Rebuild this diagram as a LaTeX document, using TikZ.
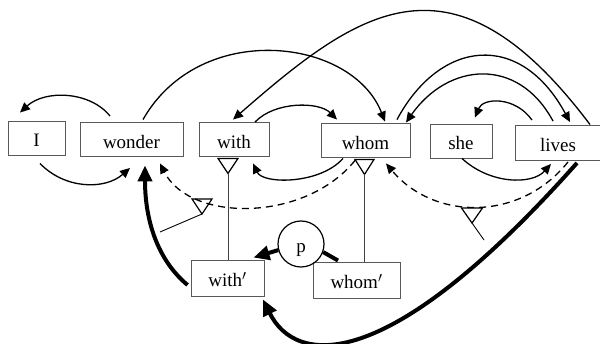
\documentclass[tikz,border=0pt]{standalone}
\usepackage{fontspec}
\setmainfont{Liberation Serif}
\usetikzlibrary{arrows.meta,calc}

\begin{document}
\begin{tikzpicture}[x=1pt, y=-1pt,
  word/.style={draw=black!65, line width=0.9pt, minimum height=34pt, inner sep=0pt,
    text height=18pt, text depth=0pt, font=\fontsize{19}{22}\selectfont},
  link/.style={line width=1.3pt, -{Triangle[length=10pt,width=9pt]}},
  trace/.style={link, dash pattern=on 7pt off 5pt},
  heavy/.style={line width=4pt, -{Triangle[length=16pt,width=14pt]}},
  tri/.style={line width=1.2pt, line join=miter},
  stem/.style={line width=0.9pt, black!75}]

  \useasboundingbox (0,0) rectangle (600,344);

  % The words of the sentence
  \node[word, minimum width=57pt] (I) at (36.5,138) {I};
  \node[word, minimum width=103pt] (wonder) at (131.5,139.5) {wonder};
  \node[word, minimum width=70pt] (with) at (234,139.5) {with};
  \node[word, minimum width=89pt] (whom) at (365.5,140.5) {whom};
  \node[word, minimum width=62pt] (she) at (461,141) {she};
  \node[word, minimum width=86pt, minimum height=35pt] (lives) at (558,142.5) {lives};

  % The copies below and the p node
  \node[word, minimum width=73pt, minimum height=36pt] (withp) at (227.5,278) {with$'$};
  \node[word, minimum width=87pt, minimum height=36pt] (whomp) at (356.5,280) {whom$'$};
  \node[draw, circle, line width=1.2pt, minimum size=46pt, inner sep=0pt,
    text height=17pt, text depth=0pt, font=\fontsize{19}{22}\selectfont] (p) at (301,244) {p};

  % Arcs above the words
  \draw[link] ($(wonder.north)+(-21.5,-6)$) .. controls +(-20,-25) and +(25,-23) .. ($(I.north)+(-16.5,-8)$);
  \draw[link] ($(wonder.north)+(11.5,-2.5)$) .. controls +(57,-100) and +(-33,-84) .. ($(whom.north)+(19.5,-1.5)$);
  \draw[link] ($(lives.north)+(32,0)$) .. controls +(-137,-182) and +(127,-111) .. ($(with.north)+(-1,-2.5)$);
  \draw[link] ($(with.north)+(21,0)$) .. controls +(20,-21) and +(-18,-18) .. ($(whom.north)+(-28.5,-3.5)$);
  \draw[link] ($(whom.north)+(31.5,-3.5)$) .. controls +(43,-80) and +(-50,-92) .. ($(lives.north)+(12,-2.5)$);
  \draw[link] ($(lives.north)+(-5,-3.5)$) .. controls +(-35,-65) and +(42,-60) .. ($(whom.north)+(40.5,-0.5)$);
  \draw[link] ($(lives.north)+(-26,-4.5)$) .. controls +(-17,-24) and +(8,-20) .. ($(she.north)+(14,-6)$);

  % Arcs below the words
  \draw[link] ($(I.south)+(3.5,8)$) .. controls +(25,26) and +(-25,22) .. ($(wonder.south)+(-1.5,11)$);
  \draw[link] ($(she.south)+(1,0)$) .. controls +(28,26) and +(-19,21) .. ($(lives.south)+(-7,3.5)$);
  \draw[link] ($(whom.south)+(-22.5,0.5)$) .. controls +(-23,26) and +(10,21) .. ($(with.south)+(19,6.5)$);

  % Dashed arcs
  \draw[trace] ($(whom.south)+(-10.5,2.5)$) .. controls +(-50,62) and +(30,59) .. ($(wonder.south)+(28.5,6.5)$);
  \draw[trace] ($(lives.south)+(10,1.5)$) .. controls +(-48,60) and +(48,57) .. ($(whom.south)+(20.5,5.5)$);

  % Open triangles and their stems
  \draw[tri] ($(with.south)+(-16,1.5)$) -- ++(20,0) -- ++(-10,15) coordinate (withtip) -- cycle;
  \draw[stem] (withtip) -- (withtip |- withp.north);
  \draw[tri] ($(whom.south)+(-10.5,1.5)$) -- ++(19,0) -- ++(-9.5,15) coordinate (whomtip) -- cycle;
  \draw[stem] (whomtip) -- (whomtip |- whomp.north);

  \coordinate (gapleft) at (202,214);
  \coordinate (gapleftend) at (160,232);
  \draw[tri] (gapleft) -- ++(-10,-15) -- ++(20,0) -- cycle;
  \draw[line width=0.9pt] (gapleft) -- (gapleftend);

  \coordinate (gapright) at (472,223);
  \coordinate (gaprightend) at (484,240);
  \draw[tri] (gapright) -- ++(-10.5,-15) -- ++(21,0) -- cycle;
  \draw[line width=0.9pt] (gapright) -- (gaprightend);

  % Heavy arrows
  \draw[heavy] ($(withp.west)+(-3,7)$) .. controls +(-30,-25) and +(0,55) .. ($(wonder.south)+(13.5,8.5)$);
  \draw[heavy] ($(lives.south)+(19,2.5)$) .. controls +(-192,216) and +(32,65) .. ($(withp.south)+(35.5,3)$);
  \draw[heavy] (p.195) -- ($(withp.north)+(26,-2)$);
  \draw[line width=4pt] ($(whomp.north)+(-18.5,-1)$) -- (p.-20);

\end{tikzpicture}
\end{document}
